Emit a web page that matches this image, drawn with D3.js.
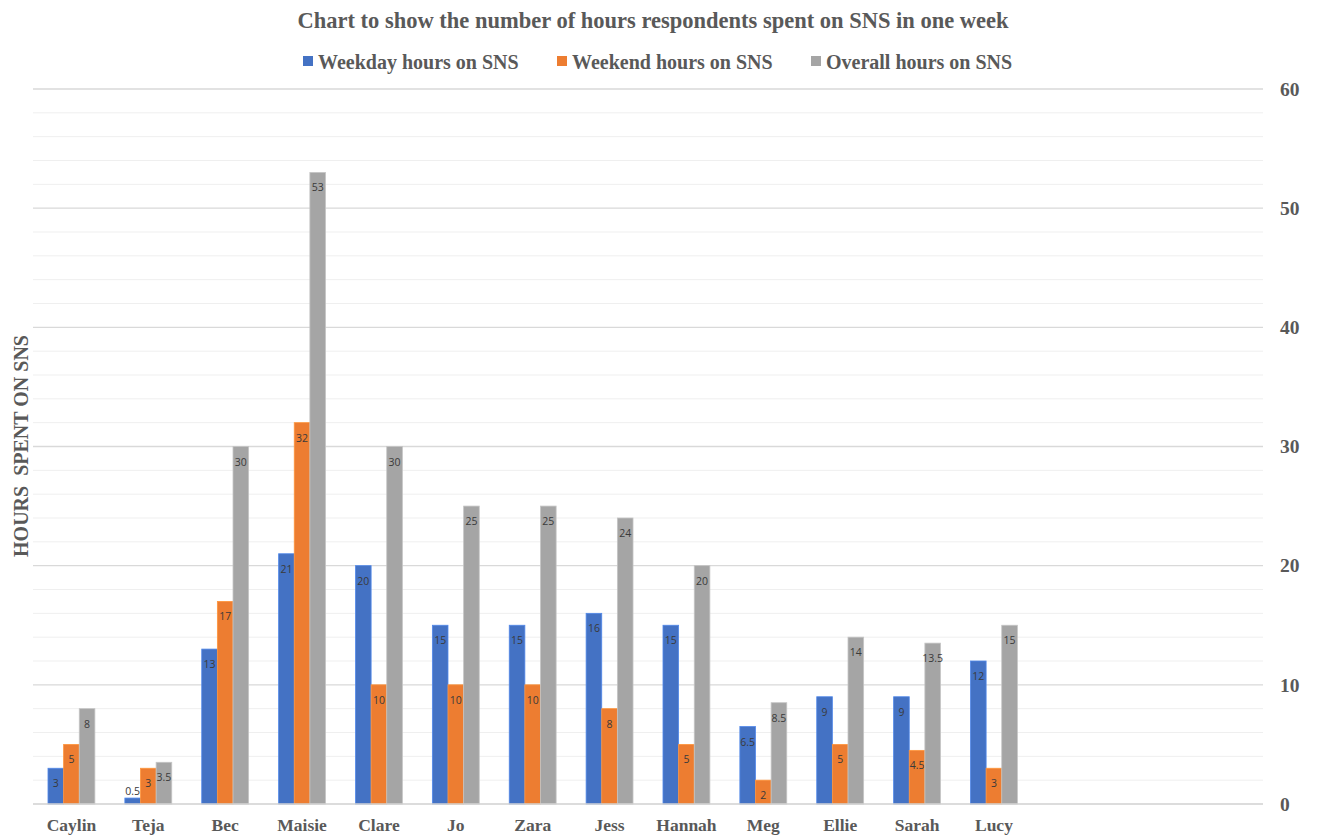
<!DOCTYPE html>
<html>
<head>
<meta charset="utf-8">
<script src="https://cdn.jsdelivr.net/npm/d3@7"></script>
<style>
  body { margin: 0; background: #fff; }
  svg { display: block; }
</style>
</head>
<body>
<svg id="chart" width="1317" height="836"></svg>
<script>
// Respondents (the last three slots on the axis are left empty)
const names = ["Caylin", "Teja", "Bec", "Maisie", "Clare", "Jo", "Zara", "Jess", "Hannah", "Meg", "Ellie", "Sarah", "Lucy", "", " ", "  "];
const weekday = [3, 0.5, 13, 21, 20, 15, 15, 16, 15, 6.5, 9, 9, 12];
const weekend = [5, 3, 17, 32, 10, 10, 10, 8, 5, 2, 5, 4.5, 3];
const overall = [8, 3.5, 30, 53, 30, 25, 25, 24, 20, 8.5, 14, 13.5, 15];
const seriesNames = ["Weekday hours on SNS", "Weekend hours on SNS", "Overall hours on SNS"];
const colors = ["#4472C4", "#ED7D31", "#A5A5A5"];
const yTicks = [0, 10, 20, 30, 40, 50, 60];

const series = [weekday, weekend, overall];
const svg = d3.select("#chart");
const serif = "'Liberation Serif', 'Times New Roman', serif";
const plotLeft = 33, plotRight = 1263, plotTop = 89, plotBottom = 804;

const x0 = d3.scaleBand().domain(names).range([plotLeft, plotRight])
  .paddingInner(0.39).paddingOuter(0.195);
const x1 = d3.scaleBand().domain(d3.range(3)).range([0, x0.bandwidth()]);
const y = d3.scaleLinear().domain([0, 60]).range([plotBottom, plotTop]);

// Grid: light lines every 2 hours, stronger ones every 10
svg.append("g").selectAll("line")
  .data(d3.range(2, 61, 2))
  .join("line")
  .attr("x1", plotLeft).attr("x2", plotRight)
  .attr("y1", d => y(d)).attr("y2", d => y(d))
  .attr("stroke", d => d % 10 === 0 ? "#D9D9D9" : "#EFEFEF")
  .attr("stroke-width", d => d % 10 === 0 ? 1.3 : 1);

// Bars
const groups = svg.append("g").selectAll("g")
  .data(names.slice(0, weekday.length))
  .join("g")
  .attr("transform", d => `translate(${x0(d)},0)`);

groups.each(function(name, i) {
  const g = d3.select(this);
  series.forEach((s, k) => {
    const v = s[i];
    g.append("rect")
      .attr("x", x1(k))
      .attr("width", x1.bandwidth())
      .attr("y", y(v))
      .attr("height", y(0) - y(v))
      .attr("fill", colors[k])
      .attr("stroke", d3.color(colors[k]).brighter(0.5))
      .attr("stroke-width", 0.8);
    const inside = (y(0) - y(v)) > 18;
    g.append("text")
      .attr("x", x1(k) + x1.bandwidth() / 2)
      .attr("y", inside ? y(v) + 19 : y(v) - 3)
      .attr("text-anchor", "middle")
      .attr("font-family", "'Open Sans', 'Liberation Sans', sans-serif")
      .attr("font-size", 10.5)
      .attr("fill", "#3A3A3A")
      .text(v);
  });
});

// Baseline
svg.append("line")
  .attr("x1", plotLeft).attr("x2", plotRight)
  .attr("y1", y(0)).attr("y2", y(0))
  .attr("stroke", "#D0D0D0").attr("stroke-width", 1.3);

// Right-hand value axis
const yAxis = svg.append("g")
  .attr("transform", `translate(${plotRight},0)`)
  .call(d3.axisRight(y).tickValues(yTicks).tickSize(0).tickPadding(17));
yAxis.select(".domain").remove();
yAxis.selectAll("text")
  .attr("font-family", serif).attr("font-size", 19.5).attr("font-weight", "bold")
  .attr("fill", "#595959");

// Category axis
const xAxis = svg.append("g")
  .attr("transform", `translate(0,${plotBottom})`)
  .call(d3.axisBottom(x0).tickSize(0).tickPadding(15));
xAxis.select(".domain").remove();
xAxis.selectAll("text")
  .attr("font-family", serif).attr("font-size", 17.5).attr("font-weight", "bold")
  .attr("fill", "#595959");

// Vertical axis title
svg.append("text")
  .attr("transform", `translate(28,446) rotate(-90)`)
  .attr("text-anchor", "middle")
  .attr("font-family", serif).attr("font-size", 20).attr("font-weight", "bold")
  .attr("fill", "#595959")
  .attr("xml:space", "preserve")
  .text("HOURS  SPENT ON SNS");

// Title
svg.append("text")
  .attr("x", 653).attr("y", 28)
  .attr("text-anchor", "middle")
  .attr("font-family", serif).attr("font-size", 22.5).attr("font-weight", "bold")
  .attr("fill", "#595959")
  .text("Chart to show the number of hours respondents spent on SNS in one week");

// Legend
const legendX = [303, 557, 811];
const legend = svg.append("g").selectAll("g")
  .data(seriesNames)
  .join("g")
  .attr("transform", (d, i) => `translate(${legendX[i]},62)`);
legend.append("rect")
  .attr("x", 0).attr("y", -6).attr("width", 10).attr("height", 10)
  .attr("fill", (d, i) => colors[i]);
legend.append("text")
  .attr("x", 15).attr("y", 7)
  .attr("font-family", serif).attr("font-size", 20).attr("font-weight", "bold")
  .attr("fill", "#595959")
  .text(d => d);
</script>
</body>
</html>
